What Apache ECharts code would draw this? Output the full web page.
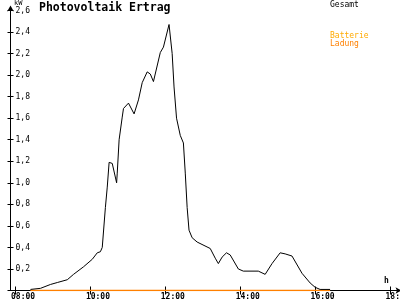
<!DOCTYPE html>
<html><head><meta charset="utf-8">
<script src="https://cdn.jsdelivr.net/npm/echarts@6/dist/echarts.min.js"></script>
<style>html,body{margin:0;padding:0;background:#fff}#c{width:400px;height:300px}</style>
</head><body><div id="c"></div>
<script>
const times = ['08:24','08:40','08:56','09:07','09:23','09:33','09:49','10:03','10:11','10:16','10:19','10:24','10:27','10:30','10:35','10:42','10:43','10:46','10:51','10:53','11:01','11:10','11:17','11:23','11:31','11:36','11:41','11:52','11:57','12:06','12:11','12:14','12:18','12:24','12:29','12:32','12:35','12:38','12:43','12:51','13:12','13:20','13:25','13:31','13:38','13:44','13:57','14:05','14:29','14:40','14:51','15:04','15:12','15:23','15:39','15:52','16:00','16:08','16:24'];
const gesamt = [0.01,0.02,0.056,0.074,0.10,0.15,0.22,0.29,0.35,0.36,0.40,0.77,0.96,1.19,1.18,1.00,1.09,1.40,1.61,1.69,1.74,1.64,1.77,1.93,2.03,2.01,1.94,2.21,2.26,2.47,2.20,1.89,1.60,1.44,1.37,1.09,0.77,0.56,0.49,0.45,0.39,0.30,0.25,0.31,0.35,0.33,0.20,0.18,0.18,0.15,0.25,0.35,0.34,0.32,0.16,0.07,0.03,0.01,0.01];
const ladung = [0,0,0,0,0,0,0,0,0,0,0,0,0,0,0,0,0,0,0,0,0,0,0,0,0,0,0,0,0,0,0,0,0,0,0,0,0,0,0,0,0,0,0,0,0,0,0,0,0,0,0,0,0,0,0,0,0,0,0];
const xTickLabels = ['08:00','10:00','12:00','14:00','16:00','18:00'];
const legendLabels = ['Gesamt','Batterie','Ladung'];

function hours(s){const p=s.split(':');return Number(p[0])+Number(p[1])/60;}
function fmtH(v){const hh=Math.floor(v+1e-6);const mm=Math.round((v-hh)*60);return String(hh).padStart(2,'0')+':'+String(mm).padStart(2,'0');}
const xTicks = xTickLabels.map(hours);
const FONT = 'DejaVu Sans Mono';

const chart = echarts.init(document.getElementById('c'), null, {renderer:'canvas'});
const xMin = 8 - 5/37.5, xMax = 18.2;
const baseX = {type:'value', min:xMin, max:xMax, gridIndex:0, position:'bottom', offset:0};
const baseY = {type:'value', min:0, max:2.6, interval:0.2, gridIndex:0, position:'left', offset:0};
chart.setOption({
  animation:false,
  backgroundColor:'#ffffff',
  grid:{left:10.5, right:2.5, top:10.5, bottom:9.5, containLabel:false, outerBoundsMode:'none'},
  xAxis:[
    Object.assign({}, baseX, {
      axisLine:{show:true, lineStyle:{color:'#000', width:1}, symbol:['none','arrow'], symbolSize:[5,6], symbolOffset:[0,4]},
      axisTick:{show:true, length:4, inside:false, lineStyle:{color:'#000'}, customValues:xTicks},
      axisLabel:{show:true, customValues:xTicks, formatter:fmtH, color:'#000', fontFamily:FONT, fontSize:8, fontWeight:'bold', margin:2, align:'left', padding:[0,0,0,-4.5]},
      splitLine:{show:false}
    }),
    Object.assign({}, baseX, {
      axisLine:{show:false},
      axisTick:{show:true, length:4, inside:true, lineStyle:{color:'#000'}, customValues:xTicks},
      axisLabel:{show:false}, splitLine:{show:false}
    })
  ],
  yAxis:[
    Object.assign({}, baseY, {
      axisLine:{show:true, lineStyle:{color:'#000', width:1}, symbol:['none','arrow'], symbolSize:[5,6], symbolOffset:[0,5]},
      axisTick:{show:true, length:3, inside:false, lineStyle:{color:'#000'}},
      axisLabel:{show:true, inside:true, margin:5, color:'#000', fontFamily:FONT, fontSize:8,
        formatter:function(v){return v===0?'':v.toFixed(1).replace('.',',');}},
      splitLine:{show:false}
    }),
    Object.assign({}, baseY, {
      axisLine:{show:false},
      axisTick:{show:true, length:3, inside:true, lineStyle:{color:'#000'}},
      axisLabel:{show:false}, splitLine:{show:false}
    })
  ],
  series:[
    {name:'Ladung', type:'line', xAxisIndex:0, yAxisIndex:0, showSymbol:false, symbol:'none', z:2,
     lineStyle:{color:'#ff8000', width:1.5}, data:times.map((t,i)=>[hours(t), ladung[i]])},
    {name:'Gesamt', type:'line', xAxisIndex:0, yAxisIndex:0, showSymbol:false, symbol:'none', z:3,
     lineStyle:{color:'#000', width:1}, data:times.map((t,i)=>[hours(t), gesamt[i]])}
  ],
  graphic:[
    {type:'text', left:39, top:2, style:{text:'Photovoltaik Ertrag', fill:'#000', font:'bold 11.5px "DejaVu Sans Mono"'}},
    {type:'text', left:14, top:0, style:{text:'kW', fill:'#000', font:'7px "DejaVu Sans Mono"'}},
    {type:'text', left:384, top:277, style:{text:'h', fill:'#000', font:'bold 8px "DejaVu Sans Mono"'}},
    {type:'text', left:330, top:1, style:{text:legendLabels[0], fill:'#000', font:'8px "DejaVu Sans Mono"'}},
    {type:'text', left:330, top:32, style:{text:legendLabels[1], fill:'#ffaa00', font:'8px "DejaVu Sans Mono"'}},
    {type:'text', left:330, top:40, style:{text:legendLabels[2], fill:'#ff8000', font:'8px "DejaVu Sans Mono"'}}
  ]
});
</script></body></html>
